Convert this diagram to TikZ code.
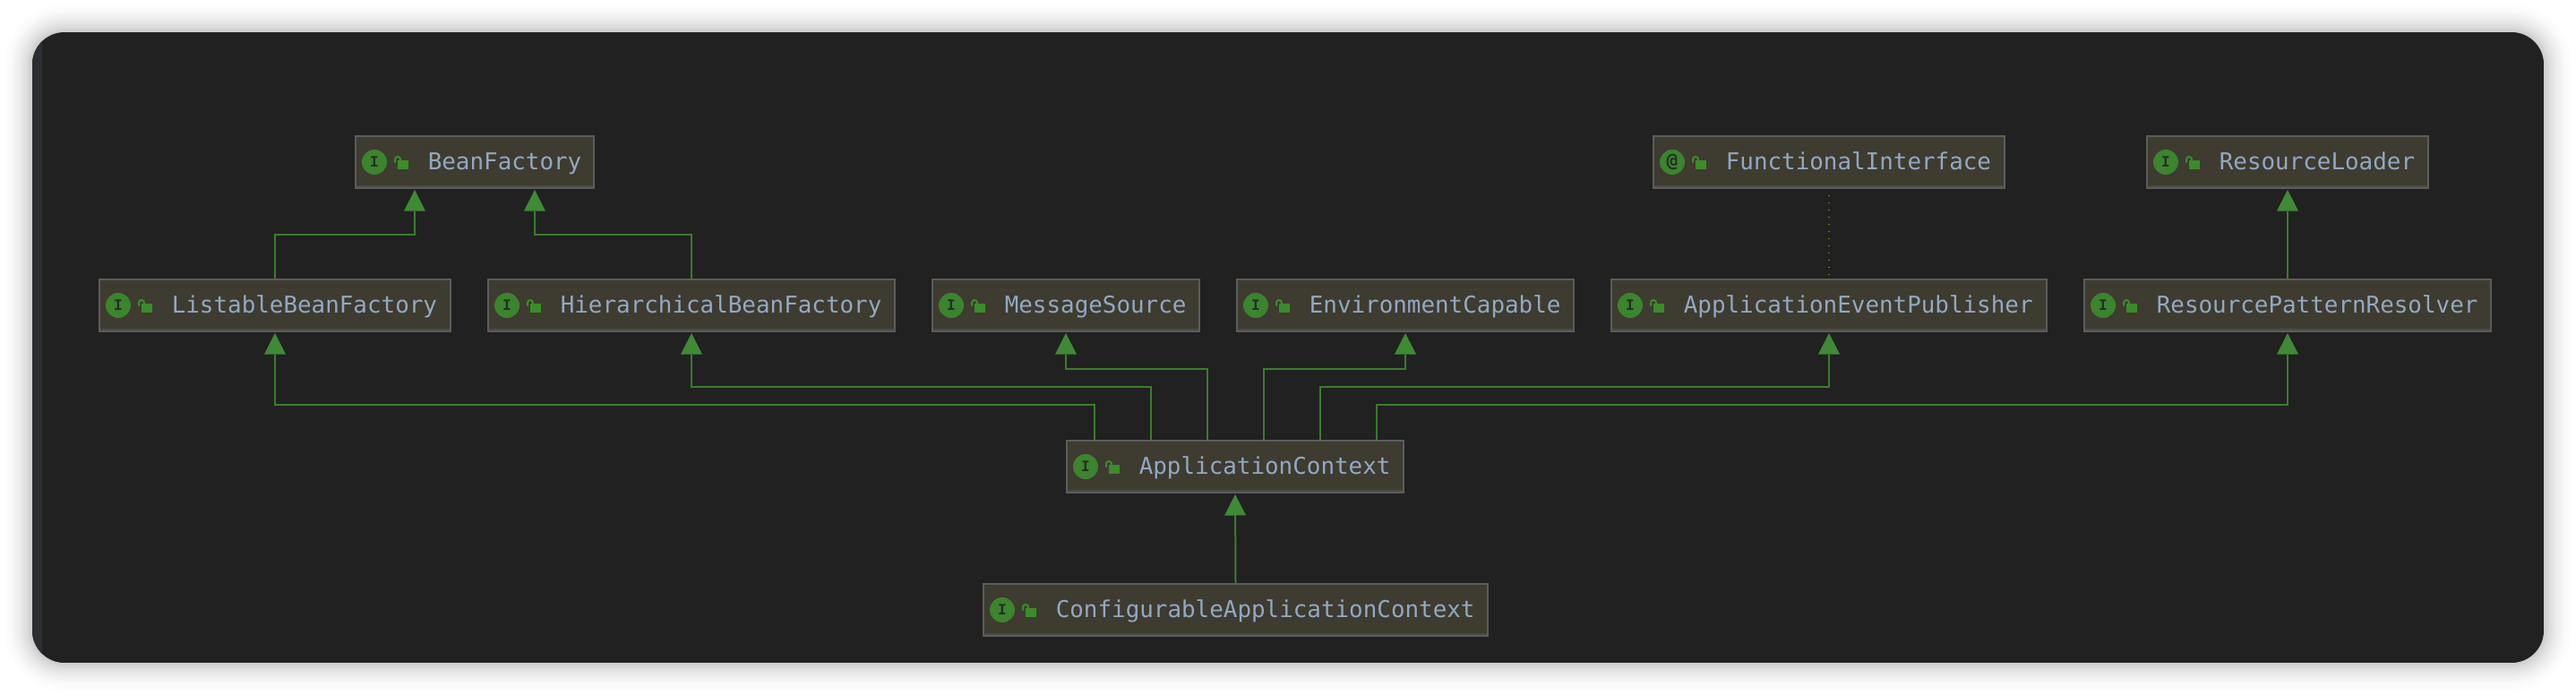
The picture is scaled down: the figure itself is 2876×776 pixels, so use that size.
\documentclass[tikz,border=0pt]{standalone}
\usepackage{fontspec}
\setmonofont{DejaVu Sans Mono}
\usetikzlibrary{arrows.meta,calc}
\definecolor{panelbg}{HTML}{212121}
\definecolor{stripbg}{HTML}{2B2E32}
\definecolor{boxfill}{HTML}{3E3B30}
\definecolor{boxline}{HTML}{5C5C5C}
\definecolor{boxband}{HTML}{4B4A46}
\definecolor{labeltext}{HTML}{93A8C2}
\definecolor{linegreen}{HTML}{3A7C2E}
\definecolor{tipgreen}{HTML}{3E8A35}
\definecolor{iconfill}{HTML}{3C842E}
\definecolor{iconmark}{HTML}{22301F}
\definecolor{lockgreen}{HTML}{3B8C2A}
\definecolor{dotline}{HTML}{7A7A00}
\tikzset{
  x=1pt,y=-1pt,
  classrect/.style={draw=boxline,fill=boxfill,line width=2pt,outer sep=1pt,inner sep=0pt,minimum height=58pt,anchor=north west},
  classlabel/.style={inner sep=0pt,anchor=base west,text=labeltext,font=\ttfamily\fontsize{25.9}{26}\selectfont},
  iconcircle/.style={circle,fill=iconfill,minimum size=28pt,inner sep=0pt,text=iconmark},
  conn/.style={draw=linegreen,line width=2pt,-{Triangle[length=23.5pt,width=24pt,color=tipgreen,fill=tipgreen,line width=0pt]},shorten >=1pt,line join=miter},
  plainlink/.style={draw=dotline,line width=1.4pt,dash pattern=on 1.4pt off 6.6pt},
}
% name, left, top, width, label, icon mark, icon font size
\newcommand{\classbox}[7]{%
  \node[classrect,minimum width=#4pt-2pt] (#1) at (#2,#3) {};
  \begin{scope}[shift={(#1.north west)}]
    \fill[boxband] (2,56) rectangle ({#4-2},58);
    \node[iconcircle,font=\ttfamily\bfseries\fontsize{#7}{#7}\selectfont] (#1-icon) at (22,30) {#6};
    \fill[lockgreen] (48,28) rectangle (60,38);
    \draw[lockgreen,line width=2pt,rounded corners=3pt] (45,30.5) -- (45,24) -- (51,24) -- (51,28);
    \node[classlabel] (#1-label) at (81.6,38) {#5};
  \end{scope}
}
\begin{document}
\begin{tikzpicture}
\useasboundingbox (0,0) rectangle (2876,776);
\fill[white] (0,0) rectangle (2876,776);
% soft shadow
\foreach \i in {0,...,24}{
  \pgfmathsetmacro{\dd}{36-1.5*\i}
  \pgfmathsetmacro{\aa}{0.016*(1-\dd/36)+0.0004}
  \pgfmathsetmacro{\rr}{36+\dd}
  \fill[black,opacity=\aa,rounded corners=\rr pt] ({36-\dd},{36-\dd}) rectangle ({2840+\dd},{740+\dd});
}
% panel
\begin{scope}
  \clip[rounded corners=36pt] (36,36) rectangle (2840,740);
  \fill[panelbg] (36,36) rectangle (2840,740);
  \fill[stripbg] (36,36) rectangle (47,740);
\end{scope}
% classes
\classbox{bf}{396}{151}{268}{BeanFactory}{I}{16}
\classbox{fi}{1845}{151}{394}{FunctionalInterface}{@}{21}
\classbox{rl}{2396}{151}{316}{ResourceLoader}{I}{16}
\classbox{lbf}{110}{311}{394}{ListableBeanFactory}{I}{16}
\classbox{hbf}{544}{311}{456}{HierarchicalBeanFactory}{I}{16}
\classbox{ms}{1040}{311}{300}{MessageSource}{I}{16}
\classbox{ec}{1380}{311}{378}{EnvironmentCapable}{I}{16}
\classbox{aep}{1798}{311}{488}{ApplicationEventPublisher}{I}{16}
\classbox{rpr}{2326}{311}{456}{ResourcePatternResolver}{I}{16}
\classbox{ac}{1190}{491}{378}{ApplicationContext}{I}{16}
\classbox{cac}{1097}{651}{565}{ConfigurableApplicationContext}{I}{16}
% connectors
\draw[conn] (lbf.north) -- ++(0,-49.5) -| ([xshift=-67pt]bf.south);
\draw[conn] (hbf.north) -- ++(0,-49.5) -| ([xshift=67pt]bf.south);
\draw[plainlink] ([yshift=-7pt]fi.south) -- ([yshift=3pt]aep.north);
\draw[conn] (rpr.north) -- (rl.south);
\draw[conn] ([xshift=31.5pt]ac.north west) -- ++(0,-39.5) -| (lbf.south);
\draw[conn] ([xshift=94.5pt]ac.north west) -- ++(0,-59.5) -| (hbf.south);
\draw[conn] ([xshift=157.5pt]ac.north west) -- ++(0,-79.5) -| (ms.south);
\draw[conn] ([xshift=220.5pt]ac.north west) -- ++(0,-79.5) -| (ec.south);
\draw[conn] ([xshift=283.5pt]ac.north west) -- ++(0,-59.5) -| (aep.south);
\draw[conn] ([xshift=346.5pt]ac.north west) -- ++(0,-39.5) -| (rpr.south);
\draw[conn] (cac.north) -- (ac.south);
\end{tikzpicture}
\end{document}
